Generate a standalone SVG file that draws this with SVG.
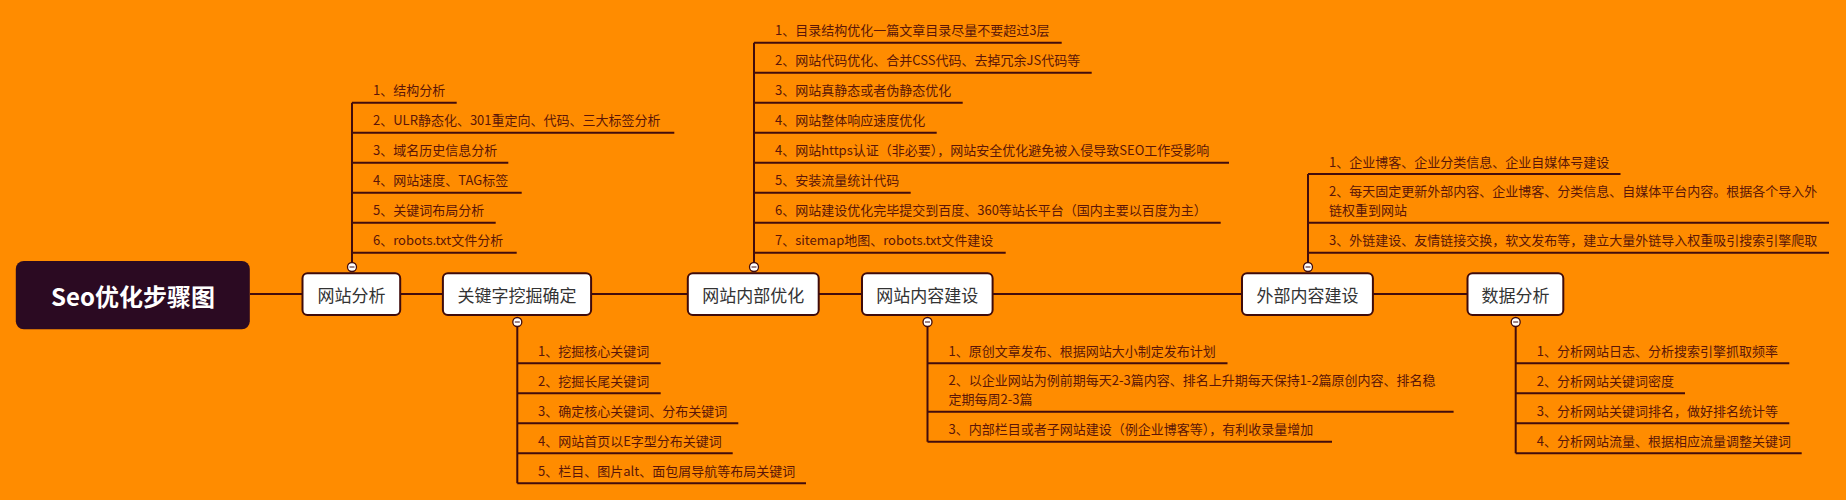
<svg xmlns="http://www.w3.org/2000/svg" width="1846" height="500" viewBox="0 0 1846 500">
<style>
.bg{fill:#FF8C00}
.root rect{fill:#2b0a22}
.root text{fill:#ffffff;font-family:"Noto Sans CJK SC","Liberation Sans",sans-serif;font-size:24px;font-weight:bold;text-anchor:middle;dominant-baseline:central}
.node rect{fill:#ffffff;stroke:#3f0b0b;stroke-width:2}
.node text{fill:#333333;font-family:"Noto Sans CJK SC","Liberation Sans",sans-serif;font-size:17px;text-anchor:middle;dominant-baseline:central}
.ln{stroke:#420c0c;stroke-width:2;fill:none}
.tog circle{fill:#ffffff;stroke:#420c0c;stroke-width:1.3}
.tog line{stroke:#420c0c;stroke-width:1}
.node .item{fill:#5b1608;font-family:"Noto Sans CJK SC","Liberation Sans",sans-serif;font-size:13px;text-anchor:start;dominant-baseline:auto}
</style>
<rect class="bg" x="0" y="0" width="1846" height="500"/>

<g id="connectors">
  <path class="ln" d="M250 294H302.5M400.2 294H442.9M591.1 294H687.8M818.7 294H862M992.6 294H1242M1372.9 294H1467.5"/>
  <path class="ln" d="M352 267V102.7M352 102.7H456.7M352 132.7H674.3M352 162.7H508.3M352 192.7H521.7M352 222.7H495.7M352 252.7H516.7"/>
  <path class="ln" d="M517.3 322V483.3M517.3 363.3H660.7M517.3 393.3H660.7M517.3 423.3H738.3M517.3 453.3H732.7M517.3 483.3H806"/>
  <path class="ln" d="M754 267V42.7M754 42.7H1061.7M754 72.7H1091.7M754 102.7H962.7M754 132.7H936.7M754 162.7H1229M754 192.7H910.7M754 222.7H1220.7M754 252.7H1005.7"/>
  <path class="ln" d="M927.5 322V441.7M927.5 363.3H1227.5M927.5 411.7H1453.6M927.5 441.7H1332"/>
  <path class="ln" d="M1308 267V174M1308 174H1620.5M1308 222.7H1829M1308 252.7H1829"/>
  <path class="ln" d="M1515.7 322V453.3M1515.7 363.3H1789.3M1515.7 393.3H1685M1515.7 423.3H1789.3M1515.7 453.3H1801.7"/>
</g>

<g id="root" class="root">
  <rect x="15.8" y="261" width="234" height="68.3" rx="8"/>
  <text x="133" y="295">Seo优化步骤图</text>
</g>

<g id="node-wangzhanfenxi" class="node">
  <rect x="302.5" y="273.3" width="97.7" height="41.7" rx="5"/>
  <text x="351.4" y="294">网站分析</text>
  <g class="tog"><circle cx="352" cy="267" r="4.5"/><line x1="349.5" y1="267" x2="354.5" y2="267"/></g>
  <text class="item" x="373" y="95.2">1、结构分析</text>
  <text class="item" x="373" y="125.2">2、ULR静态化、301重定向、代码、三大标签分析</text>
  <text class="item" x="373" y="155.2">3、域名历史信息分析</text>
  <text class="item" x="373" y="185.2">4、网站速度、TAG标签</text>
  <text class="item" x="373" y="215.2">5、关键词布局分析</text>
  <text class="item" x="373" y="245.2">6、robots.txt文件分析</text>
</g>

<g id="node-guanjianzi" class="node">
  <rect x="442.9" y="273.3" width="148.2" height="41.7" rx="5"/>
  <text x="517" y="294">关键字挖掘确定</text>
  <g class="tog"><circle cx="517.3" cy="322" r="4.5"/><line x1="514.8" y1="322" x2="519.8" y2="322"/></g>
  <text class="item" x="538" y="355.8">1、挖掘核心关键词</text>
  <text class="item" x="538" y="385.8">2、挖掘长尾关键词</text>
  <text class="item" x="538" y="415.8">3、确定核心关键词、分布关键词</text>
  <text class="item" x="538" y="445.8">4、网站首页以E字型分布关键词</text>
  <text class="item" x="538" y="475.8">5、栏目、图片alt、面包屑导航等布局关键词</text>
</g>

<g id="node-neibuyouhua" class="node">
  <rect x="687.8" y="273.3" width="130.9" height="41.7" rx="5"/>
  <text x="753.3" y="294">网站内部优化</text>
  <g class="tog"><circle cx="754" cy="267" r="4.5"/><line x1="751.5" y1="267" x2="756.5" y2="267"/></g>
  <text class="item" x="775" y="35.2">1、目录结构优化一篇文章目录尽量不要超过3层</text>
  <text class="item" x="775" y="65.2">2、网站代码优化、合并CSS代码、去掉冗余JS代码等</text>
  <text class="item" x="775" y="95.2">3、网站真静态或者伪静态优化</text>
  <text class="item" x="775" y="125.2">4、网站整体响应速度优化</text>
  <text class="item" x="775" y="155.2">4、网站https认证（非必要），网站安全优化避免被入侵导致SEO工作受影响</text>
  <text class="item" x="775" y="185.2">5、安装流量统计代码</text>
  <text class="item" x="775" y="215.2">6、网站建设优化完毕提交到百度、360等站长平台（国内主要以百度为主）</text>
  <text class="item" x="775" y="245.2">7、sitemap地图、robots.txt文件建设</text>
</g>

<g id="node-neirongjianshe" class="node">
  <rect x="862" y="273.3" width="130.6" height="41.7" rx="5"/>
  <text x="927.3" y="294">网站内容建设</text>
  <g class="tog"><circle cx="927.5" cy="322" r="4.5"/><line x1="925" y1="322" x2="930" y2="322"/></g>
  <text class="item" x="948.5" y="355.8">1、原创文章发布、根据网站大小制定发布计划</text>
  <text class="item" x="948.5" y="385.2">2、以企业网站为例前期每天2-3篇内容、排名上升期每天保持1-2篇原创内容、排名稳</text>
  <text class="item" x="948.5" y="404.2">定期每周2-3篇</text>
  <text class="item" x="948.5" y="434.2">3、内部栏目或者子网站建设（例企业博客等），有利收录量增加</text>
</g>

<g id="node-waibu" class="node">
  <rect x="1242" y="273.3" width="130.9" height="41.7" rx="5"/>
  <text x="1307.5" y="294">外部内容建设</text>
  <g class="tog"><circle cx="1308" cy="267" r="4.5"/><line x1="1305.5" y1="267" x2="1310.5" y2="267"/></g>
  <text class="item" x="1329" y="166.5">1、企业博客、企业分类信息、企业自媒体号建设</text>
  <text class="item" x="1329" y="196.2">2、每天固定更新外部内容、企业博客、分类信息、自媒体平台内容。根据各个导入外</text>
  <text class="item" x="1329" y="215.2">链权重到网站</text>
  <text class="item" x="1329" y="245.2">3、外链建设、友情链接交换，软文发布等，建立大量外链导入权重吸引搜索引擎爬取</text>
</g>

<g id="node-shujufenxi" class="node">
  <rect x="1467.5" y="273.3" width="95.8" height="41.7" rx="5"/>
  <text x="1515.4" y="294">数据分析</text>
  <g class="tog"><circle cx="1515.7" cy="322" r="4.5"/><line x1="1513.2" y1="322" x2="1518.2" y2="322"/></g>
  <text class="item" x="1536.7" y="355.8">1、分析网站日志、分析搜索引擎抓取频率</text>
  <text class="item" x="1536.7" y="385.8">2、分析网站关键词密度</text>
  <text class="item" x="1536.7" y="415.8">3、分析网站关键词排名，做好排名统计等</text>
  <text class="item" x="1536.7" y="445.8">4、分析网站流量、根据相应流量调整关键词</text>
</g>
</svg>
